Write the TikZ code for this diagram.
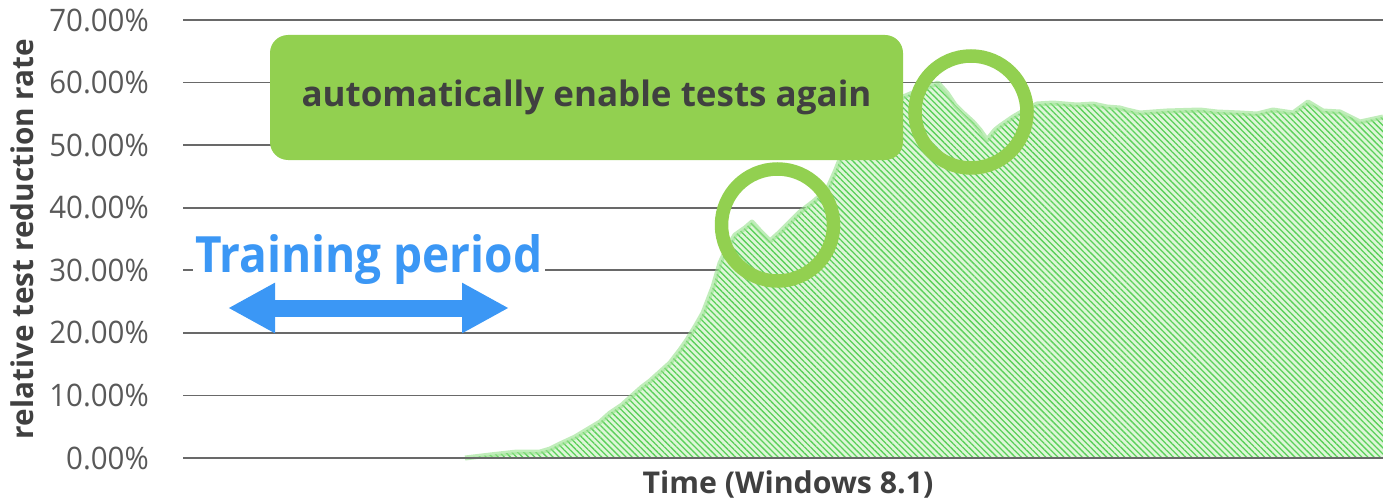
\documentclass[tikz,border=0pt]{standalone}
\usepackage{fontspec}
\usepackage{graphicx}
\setmainfont{Open Sans}
\usetikzlibrary{patterns.meta,arrows.meta}

\definecolor{gridgray}{RGB}{105,105,105}
\definecolor{ticktext}{RGB}{89,89,89}
\definecolor{titletext}{RGB}{64,64,64}
\definecolor{notegreen}{RGB}{146,208,80}
\definecolor{arealight}{RGB}{222,246,216}
\definecolor{areastripe}{RGB}{90,208,90}
\definecolor{areaglow}{RGB}{150,225,140}
\definecolor{trainblue}{RGB}{59,151,245}

\newcommand{\hsq}[2]{\scalebox{#1}[1]{#2}}

% upper edge of the area series, in pixel units
\def\areatop{(465,458) -- (490,455) -- (517,452) -- (540,452) -- (550,449) -- (560,444)
  -- (575,437) -- (590,428) -- (600,422) -- (610,413) -- (622,405) -- (633,395)
  -- (642,387) -- (650,381) -- (660,372) -- (670,363) -- (680,350) -- (687,340)
  -- (695,327) -- (703,313) -- (713,287) -- (720,263) -- (727,248) -- (735,235)
  -- (745,228) -- (752,222) -- (761,232) -- (770,241) -- (780,232) -- (790,222)
  -- (800,212) -- (813,202) -- (827,190) -- (835,172) -- (843,152) -- (855,142)
  -- (870,128) -- (885,113) -- (903,97) -- (915,92) -- (925,88) -- (938,83)
  -- (947,93) -- (955,105) -- (962,112) -- (973,122) -- (980,130) -- (987,140)
  -- (995,130) -- (1000,126) -- (1013,117) -- (1025,110) -- (1037,104) -- (1053,103)
  -- (1065,104) -- (1077,105) -- (1093,104) -- (1107,107) -- (1120,108) -- (1127,110)
  -- (1140,113) -- (1153,112) -- (1167,111) -- (1200,110) -- (1217,112) -- (1240,113)
  -- (1257,114) -- (1273,110) -- (1293,113) -- (1308,102) -- (1323,111) -- (1340,112)
  -- (1360,122) -- (1383,117)}

\tikzset{
  gridline/.style={draw=gridgray, line width=1.8pt},
  ticklabel/.style={font=\fontsize{31}{31}\selectfont, text=ticktext, inner sep=0pt, anchor=east},
  axistitle/.style={font=\fontsize{30}{30}\selectfont\bfseries, text=titletext, inner sep=0pt},
  notebox/.style={fill=notegreen, rounded corners=18pt, minimum width=633pt, minimum height=125pt,
    inner sep=0pt, font=\fontsize{35}{35}\selectfont\bfseries, text=titletext},
  ring/.style={circle, draw=notegreen, line width=13.5pt, minimum size=112pt, inner sep=0pt},
  trainlabel/.style={font=\fontsize{50}{50}\selectfont\bfseries, text=trainblue, fill=white, inner sep=2pt},
  trainarrow/.style={draw=trainblue, line width=17pt,
    {Triangle[length=47pt,width=47pt]}-{Triangle[length=47pt,width=47pt]}},
}

\begin{document}
\begin{tikzpicture}[x=1pt,y=-1pt]
\useasboundingbox (0,0) rectangle (1383,500);

% horizontal gridlines and value labels
\foreach \k in {1,...,7} {
  \pgfmathsetmacro\yy{458-62.571*\k}
  \draw[gridline] (183,\yy) -- (1383,\yy);
  \node[ticklabel] (tick\k) at (149,\yy) {\hsq{0.95}{\k0.00\%}};
}
\node[ticklabel] (tick0) at (149,458) {\hsq{0.95}{0.00\%}};

% area series: light fill with diagonal hatching and a soft upper edge
\fill[arealight, postaction={pattern={Lines[angle=-45,distance=4.3pt,line width=1.3pt]}, pattern color=areastripe}]
  \areatop -- (1383,458) -- cycle;
\draw[areaglow, line width=5pt, opacity=0.6, line join=round] \areatop;

% horizontal axis
\draw[gridline] (183,458) -- (1383,458);

% axis titles
\node[axistitle, rotate=90] (ytitle) at (22,239) {\hsq{0.99}{relative test reduction rate}};
\node[axistitle] (xtitle) at (788,484) {\hsq{1.01}{Time (Windows 8.1)}};

% annotation box and highlighted dips
\node[notebox] (note) at (586.5,97.5) {automatically enable tests again};
\node[ring] (ringA) at (777.5,225) {};
\node[ring] (ringB) at (971,112) {};

% training period
\node[trainlabel, anchor=base west] (train) at (193,272) {\hsq{0.92}{Training period}};
\coordinate (trainL) at (228,308);
\coordinate (trainR) at (509,308);
\draw[trainarrow] (trainL) -- (trainR);
\end{tikzpicture}
\end{document}
